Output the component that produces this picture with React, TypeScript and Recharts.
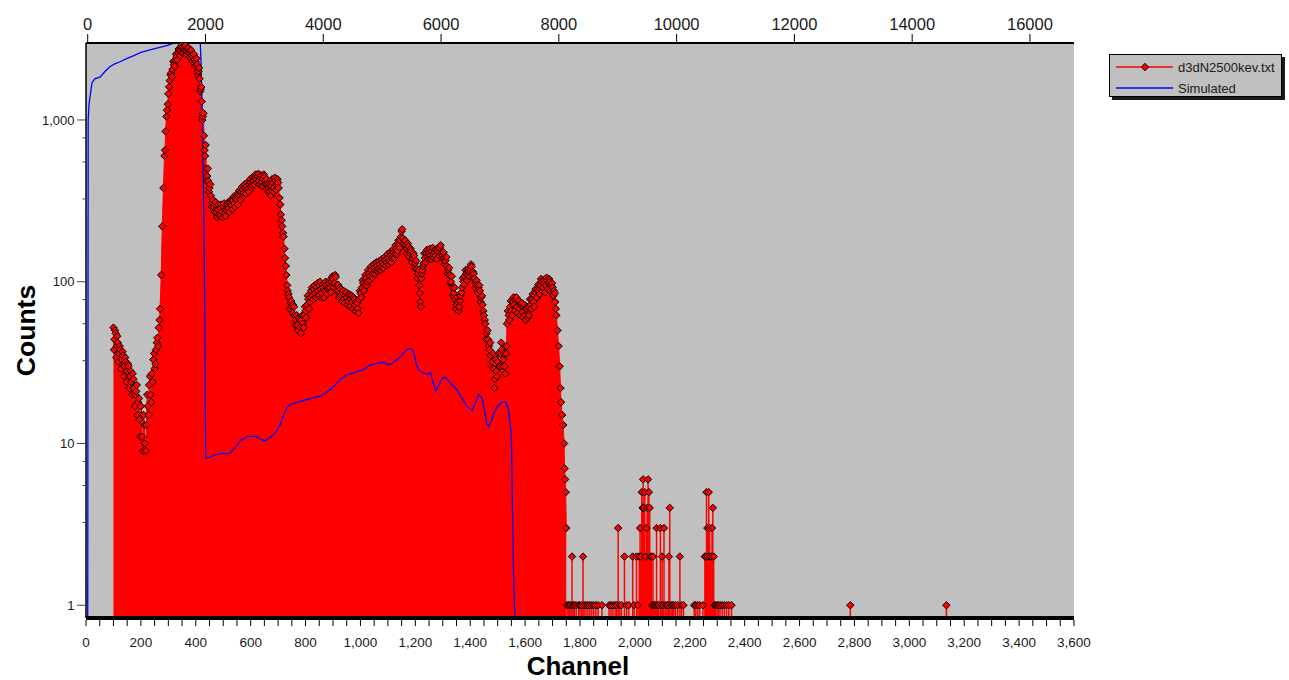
import React from 'react';
import { ComposedChart, Area, Line, XAxis, YAxis, CartesianGrid, ErrorBar } from 'recharts';

// ---- data (channel, counts) ----
const measuredDense: [number, number][] = [
  [100, 52], [104, 44], [108, 48], [112, 40], [116, 42], [120, 36], [125, 38], [130, 33], [135, 35], [140, 30],
  [145, 32], [150, 28], [155, 30], [160, 26], [165, 24], [170, 27], [175, 22], [180, 20], [185, 23], [190, 18],
  [195, 14], [200, 17], [205, 11], [210, 15], [215, 10], [220, 13], [225, 17], [230, 23], [235, 20], [240, 27],
  [245, 33], [250, 29], [255, 38], [260, 45], [265, 52], [270, 68], [274, 110], [278, 220], [282, 380], [286, 600],
  [290, 850], [295, 1150], [300, 1450], [305, 1750], [310, 1950], [315, 2050], [320, 2200], [325, 2350], [330, 2450], [335, 2600],
  [340, 2700], [345, 2650], [350, 2800], [355, 2780], [360, 2850], [365, 2700], [370, 2750], [375, 2600], [380, 2680], [385, 2500],
  [390, 2450], [395, 2350], [400, 2300], [405, 2200], [410, 2000], [414, 1800], [418, 1550], [422, 1300], [426, 1050], [430, 800],
  [434, 600], [438, 500], [442, 450], [446, 420], [450, 380], [455, 340], [460, 310], [465, 290], [470, 300], [475, 270],
  [480, 280], [485, 260], [490, 285], [495, 270], [500, 290], [505, 265], [510, 280], [515, 300], [520, 285], [525, 310],
  [530, 295], [535, 320], [540, 305], [545, 330], [550, 320], [555, 345], [560, 340], [565, 360], [570, 370], [575, 355],
  [580, 380], [585, 390], [590, 375], [595, 400], [600, 410], [605, 395], [610, 420], [615, 440], [620, 430], [625, 450],
  [630, 420], [635, 440], [640, 410], [645, 430], [650, 445], [655, 420], [660, 400], [665, 380], [670, 360], [675, 390],
  [680, 410], [685, 380], [690, 420], [695, 400], [700, 410], [705, 330], [710, 260], [715, 220], [720, 190], [725, 140],
  [730, 110], [735, 88], [740, 80], [745, 74], [750, 70], [755, 72], [760, 62], [765, 58], [770, 54], [775, 60],
  [780, 52], [785, 58], [790, 55], [795, 62], [800, 66], [805, 72], [810, 78], [815, 75], [820, 88], [825, 82],
  [830, 90], [835, 85], [840, 92], [845, 88], [850, 95], [855, 90], [860, 85], [865, 92], [870, 88], [875, 95],
  [880, 90], [885, 98], [890, 92], [895, 100], [900, 104], [905, 98], [910, 107], [915, 95], [920, 88], [925, 92],
  [930, 82], [935, 85], [940, 78], [945, 82], [950, 80], [955, 76], [960, 82], [965, 78], [970, 75], [975, 80],
  [980, 72], [985, 75], [990, 68], [995, 78], [1000, 85], [1005, 92], [1010, 98], [1015, 95], [1020, 105], [1025, 100],
  [1030, 112], [1035, 108], [1040, 118], [1045, 112], [1050, 122], [1055, 118], [1060, 125], [1065, 120], [1070, 128], [1075, 124],
  [1080, 132], [1085, 128], [1090, 136], [1095, 132], [1100, 140], [1105, 134], [1110, 145], [1115, 140], [1120, 152], [1125, 148],
  [1130, 160], [1135, 155], [1140, 170], [1145, 180], [1150, 205], [1155, 185], [1160, 175], [1165, 168], [1170, 160], [1175, 165],
  [1180, 150], [1185, 155], [1190, 140], [1195, 145], [1200, 130], [1205, 120], [1210, 112], [1215, 95], [1218, 75], [1222, 105],
  [1226, 118], [1230, 130], [1235, 140], [1240, 150], [1245, 142], [1250, 150], [1255, 145], [1260, 155], [1265, 148], [1270, 152],
  [1275, 145], [1280, 155], [1285, 150], [1290, 162], [1295, 150], [1300, 145], [1305, 140], [1310, 135], [1315, 125], [1320, 118],
  [1325, 110], [1330, 100], [1335, 92], [1340, 85], [1345, 78], [1350, 72], [1355, 75], [1360, 70], [1365, 82], [1370, 92],
  [1375, 100], [1380, 108], [1385, 112], [1390, 110], [1395, 115], [1400, 118], [1405, 124], [1410, 115], [1415, 105], [1420, 100],
  [1425, 95], [1430, 92], [1435, 88], [1440, 80], [1445, 72], [1450, 62], [1455, 55], [1460, 48], [1465, 44], [1470, 38],
  [1475, 35], [1480, 32], [1485, 29], [1490, 25], [1495, 28], [1500, 32], [1505, 30], [1510, 36], [1515, 38], [1520, 33],
  [1525, 30], [1530, 36], [1534, 55], [1540, 62], [1545, 70], [1550, 66], [1555, 75], [1560, 72], [1565, 78], [1570, 70],
  [1575, 75], [1580, 68], [1585, 72], [1590, 65], [1595, 70], [1600, 62], [1605, 68], [1610, 60], [1615, 70], [1620, 72],
  [1625, 78], [1630, 75], [1635, 82], [1640, 85], [1645, 90], [1650, 88], [1655, 95], [1660, 100], [1665, 92], [1670, 98],
  [1675, 95], [1680, 102], [1685, 98], [1690, 100], [1695, 95], [1700, 92], [1705, 88], [1710, 75], [1714, 62], [1718, 50],
  [1722, 40], [1726, 30], [1729, 22], [1731, 18], [1735, 15], [1739, 13], [1742, 10], [1744, 7], [1746, 6], [1748, 5],
  [1750, 3],
];

// in-between channels: the scatter below/above the main envelope
const measuredDenseAlt: [number, number][] = [
  [102, 38], [106, 50], [110, 34], [114, 46], [118, 32], [123, 40], [128, 29], [133, 37], [138, 26], [143, 34],
  [148, 24], [153, 31], [158, 22], [163, 28], [168, 20], [173, 25], [178, 17], [183, 21], [188, 15], [193, 19],
  [198, 11], [203, 15], [208, 9], [213, 13], [218, 9], [223, 20], [228, 15], [233, 26], [238, 18], [243, 24],
  [248, 36], [253, 31], [258, 42], [263, 40], [268, 58],
  [288, 650], [293, 1050], [298, 1250], [303, 1600], [308, 1900], [313, 1850], [318, 2300], [323, 2150], [328, 2550], [333, 2350],
  [338, 2750], [343, 2500], [348, 2900], [353, 2600], [358, 2700], [363, 2900], [368, 2550], [373, 2800], [378, 2450], [383, 2700],
  [388, 2300], [393, 2550], [398, 2150], [403, 2400], [408, 1900], [412, 2100], [416, 1500], [420, 1600], [424, 1000], [428, 1100],
  [432, 650], [436, 700], [440, 420], [444, 500], [448, 360], [453, 400], [458, 290], [463, 320],
  [468, 270], [473, 310], [478, 250], [483, 300], [488, 255], [493, 300], [498, 250], [503, 305], [508, 255], [513, 275],
  [518, 310], [523, 270], [528, 320], [533, 280], [538, 335], [543, 290], [548, 345], [553, 300], [558, 365], [563, 320],
  [568, 385], [573, 340], [578, 400], [583, 350], [588, 410], [593, 360], [598, 430], [603, 380], [608, 445], [613, 400],
  [618, 460], [623, 410], [628, 465], [633, 400], [638, 455], [643, 390], [648, 460], [653, 400], [658, 430], [663, 360],
  [668, 395], [673, 340], [678, 430], [683, 360], [688, 440], [693, 370], [698, 430], [702, 380],
  [708, 300], [713, 240], [718, 200], [723, 160], [728, 125], [733, 95], [738, 84], [743, 68], [748, 76], [753, 64],
  [758, 70], [763, 54], [768, 62], [773, 50], [778, 58], [783, 48], [788, 62], [793, 52], [798, 70], [803, 60],
  [808, 82], [813, 68], [818, 80], [823, 92], [828, 78], [833, 95], [838, 80], [843, 98], [848, 82], [853, 100],
  [858, 80], [863, 96], [868, 80], [873, 100], [878, 84], [883, 92], [888, 102], [893, 86], [898, 108], [903, 92],
  [908, 110], [913, 88], [918, 96], [923, 80], [928, 90], [933, 76], [938, 88], [943, 74], [948, 86], [953, 72],
  [958, 84], [963, 70], [968, 82], [973, 68], [978, 78], [983, 66], [988, 74], [993, 64], [998, 88],
  [1003, 80], [1008, 102], [1013, 88], [1018, 110], [1023, 95], [1028, 118], [1033, 102], [1038, 124], [1043, 106], [1048, 128],
  [1053, 112], [1058, 132], [1063, 116], [1068, 134], [1073, 118], [1078, 138], [1083, 122], [1088, 142], [1093, 126], [1098, 148],
  [1103, 128], [1108, 152], [1113, 132], [1118, 158], [1123, 140], [1128, 168], [1133, 148], [1138, 180], [1143, 162], [1148, 190],
  [1152, 211], [1158, 170], [1163, 180], [1168, 150], [1173, 172], [1178, 142], [1183, 160], [1188, 132], [1193, 150], [1198, 122],
  [1203, 135], [1208, 105], [1213, 118], [1216, 85], [1220, 70], [1224, 112], [1228, 125], [1233, 150], [1238, 132], [1243, 158],
  [1248, 138], [1253, 160], [1258, 138], [1263, 162], [1268, 140], [1273, 158], [1278, 138], [1283, 162], [1288, 145], [1292, 168],
  [1298, 140], [1303, 152], [1308, 128], [1313, 142], [1318, 112], [1323, 122], [1328, 98], [1333, 108], [1338, 82], [1343, 92],
  [1348, 68], [1353, 80], [1358, 66], [1363, 76], [1368, 86], [1373, 105], [1378, 96], [1383, 118], [1388, 102], [1393, 120],
  [1398, 108], [1403, 128], [1408, 110], [1413, 112], [1418, 92], [1423, 102], [1428, 85], [1433, 95], [1438, 75], [1443, 82],
  [1448, 66], [1453, 58], [1458, 44], [1463, 50], [1468, 40], [1473, 42], [1478, 30], [1483, 36], [1488, 22], [1493, 33],
  [1498, 26], [1503, 36], [1508, 30], [1513, 42], [1518, 30], [1523, 36], [1528, 27], [1532, 40],
  [1537, 66], [1542, 58], [1548, 76], [1553, 62], [1558, 80], [1563, 66], [1568, 80], [1573, 64], [1578, 76], [1583, 62],
  [1588, 74], [1593, 60], [1598, 72], [1603, 58], [1608, 70], [1613, 62], [1618, 78], [1623, 68], [1628, 84], [1633, 70],
  [1638, 90], [1643, 80], [1648, 96], [1653, 84], [1658, 104], [1663, 88], [1668, 102], [1673, 86], [1678, 106], [1683, 90],
  [1688, 104], [1693, 88], [1698, 98], [1703, 82], [1708, 85], [1712, 68],
];

const measuredSparse: [number, number][] = [
  [1753, 1], [1757, 1], [1762, 1], [1767, 1], [1771, 2], [1775, 1], [1779, 1], [1786, 1], [1795, 1], [1800, 1],
  [1806, 1], [1811, 2], [1815, 1], [1822, 1], [1829, 1], [1836, 1], [1843, 1], [1850, 1], [1858, 1], [1866, 1],
  [1880, 1], [1906, 1], [1913, 1], [1920, 1], [1928, 1], [1934, 1], [1939, 3], [1945, 1], [1951, 1], [1962, 2],
  [1970, 1], [1978, 1], [1992, 2], [1997, 1], [2006, 2], [2011, 1], [2016, 2], [2019, 3], [2022, 2], [2025, 5],
  [2028, 4], [2030, 6], [2033, 4], [2036, 5], [2039, 2], [2042, 3], [2045, 4], [2048, 6], [2051, 5], [2054, 4],
  [2057, 2], [2060, 2], [2063, 1], [2066, 2], [2069, 1], [2072, 1], [2076, 1], [2079, 3], [2083, 1], [2087, 1],
  [2093, 3], [2096, 1], [2099, 2], [2103, 1], [2106, 3], [2112, 1], [2117, 1], [2121, 1], [2124, 2], [2127, 4],
  [2132, 1], [2137, 1], [2142, 1], [2148, 1], [2156, 1], [2164, 2], [2170, 1], [2177, 1], [2216, 1], [2222, 1],
  [2229, 1], [2236, 1], [2248, 1], [2255, 2], [2258, 2], [2261, 5], [2264, 3], [2266, 2], [2269, 5], [2272, 3],
  [2275, 2], [2278, 2], [2281, 3], [2284, 4], [2287, 2], [2290, 1], [2294, 1], [2299, 1], [2304, 1], [2310, 1],
  [2318, 1], [2326, 1], [2334, 1], [2342, 1], [2352, 1], [2785, 1], [3135, 1],
];

const simulated: [number, number][] = [
  [6, 0.3], [8, 1000], [11, 1250], [15, 1400], [22, 1700], [33, 1800], [51, 1840], [70, 2000], [88, 2140], [105, 2220],
  [124, 2290], [150, 2400], [172, 2490], [200, 2620], [233, 2710], [265, 2800], [294, 2880], [320, 2990], [350, 3050], [390, 3100],
  [416, 3100], [419, 2300], [423, 1200], [427, 500], [430, 200], [433, 60], [436, 8.1], [452, 8.2], [470, 8.5], [489, 8.65],
  [525, 8.7], [545, 9.5], [562, 10.4], [586, 11.0], [605, 11.1], [622, 11.0], [638, 10.6], [653, 10.4], [668, 10.8], [683, 11.3],
  [695, 12], [708, 13.1], [720, 15], [732, 16.6], [745, 17.4], [762, 17.8], [785, 18.3], [805, 18.7], [830, 19.2], [853, 19.6],
  [870, 20.3], [890, 21.5], [908, 23], [926, 24.9], [950, 26.5], [975, 27.3], [995, 28], [1011, 28.6], [1036, 30.6], [1060, 31.3],
  [1084, 31.8], [1096, 31], [1106, 30.6], [1120, 31.8], [1133, 32.9], [1150, 35], [1165, 37.5], [1175, 38.6], [1185, 38.5], [1194, 37],
  [1200, 33], [1206, 30], [1212, 28.6], [1225, 27.5], [1242, 26.8], [1255, 27.3], [1265, 24], [1273, 21], [1285, 23], [1300, 25.5],
  [1309, 25.6], [1320, 24.5], [1335, 23], [1352, 21.5], [1370, 19], [1388, 17], [1407, 16], [1420, 18], [1431, 20.1], [1443, 19.1],
  [1452, 16], [1461, 13.1], [1467, 12.8], [1475, 13.5], [1485, 15.3], [1500, 17], [1515, 18], [1530, 18], [1540, 16], [1546, 13],
  [1550, 10.9], [1552, 6.5], [1555, 3], [1558, 1.5], [1562, 0.9], [1566, 0.5],
];

// ---- axes ----
const channelTicks = [
  0, 50, 100, 150, 200, 250, 300, 350, 400, 450, 500, 550, 600, 650, 700, 750, 800, 850, 900, 950,
  1000, 1050, 1100, 1150, 1200, 1250, 1300, 1350, 1400, 1450, 1500, 1550, 1600, 1650, 1700, 1750, 1800, 1850, 1900, 1950,
  2000, 2050, 2100, 2150, 2200, 2250, 2300, 2350, 2400, 2450, 2500, 2550, 2600, 2650, 2700, 2750, 2800, 2850, 2900, 2950,
  3000, 3050, 3100, 3150, 3200, 3250, 3300, 3350, 3400, 3450, 3500, 3550, 3600,
];
const channelLabels = [0, 200, 400, 600, 800, 1000, 1200, 1400, 1600, 1800, 2000, 2200, 2400, 2600, 2800, 3000, 3200, 3400, 3600];
const energyTicks = [0, 2000, 4000, 6000, 8000, 10000, 12000, 14000, 16000];
const countTicks = [1, 3.25, 5.5, 7.75, 10, 32.5, 55, 77.5, 100, 325, 550, 775, 1000];
const countLabels = [1, 10, 100, 1000];

const CH_DOMAIN: [number, number] = [0, 3600];
const Y_DOMAIN: [number, number] = [0.834, 2991];
// energy calibration of the top axis (energy = gain * channel + offset)
const ENERGY_GAIN = 16777 / 3600;
const ENERGY_OFFSET = -29;
const energyTickChannels = energyTicks.map((e) => (e - ENERGY_OFFSET) / ENERGY_GAIN);

const series = [
  { key: 'counts', name: 'd3dN2500kev.txt', color: '#ff0000', marker: true },
  { key: 'sim', name: 'Simulated', color: '#0000ff', marker: false },
];

const FONT = "'Liberation Sans', Arial, Helvetica, sans-serif";
const TXT = '#1a1a1a';

type Row = { ch: number; dense?: number; counts?: number; stem?: boolean; sim?: number };
const rowMap = new Map<number, Row>();
const rowAt = (ch: number) => {
  let r = rowMap.get(ch);
  if (!r) {
    r = { ch };
    rowMap.set(ch, r);
  }
  return r;
};
[...measuredDense, ...measuredDenseAlt].forEach(([c, v]) => {
  const r = rowAt(c);
  r.dense = v;
  r.counts = v;
});
measuredSparse.forEach(([c, v]) => {
  const r = rowAt(c);
  r.counts = v;
  r.stem = true;
});
simulated.forEach(([c, v]) => {
  rowAt(c).sim = v;
});
const data: Row[] = Array.from(rowMap.values()).sort((a, b) => a.ch - b.ch);

const stemExtent = (r: Row) => (r.stem && r.counts != null ? [r.counts - Y_DOMAIN[0], 0] : undefined);

const fmt = (v: number) => v.toLocaleString('en-US');

const BottomTick = (p: any) => {
  const { x, y, payload } = p;
  const v = payload.value;
  return (
    <g>
      <line x1={x} x2={x} y1={y + 2} y2={y + 8} stroke="#000" strokeWidth={1} />
      {channelLabels.includes(v) && (
        <text x={x} y={y + 29} textAnchor="middle" fontSize={13.5} fontFamily={FONT} fill={TXT}>
          {fmt(v)}
        </text>
      )}
    </g>
  );
};

const TopTick = (p: any) => {
  const { x, y, payload } = p;
  const energy = Math.round(payload.value * ENERGY_GAIN + ENERGY_OFFSET);
  return (
    <g>
      <line x1={x} x2={x} y1={y - 9} y2={y - 1} stroke="#000" strokeWidth={1} />
      <text x={x} y={y - 13.5} textAnchor="middle" fontSize={16.5} fontFamily={FONT} fill={TXT}>
        {String(energy)}
      </text>
    </g>
  );
};

const LeftTick = (p: any) => {
  const { x, y, payload } = p;
  const v = payload.value;
  const major = countLabels.includes(v);
  return (
    <g>
      <line x1={x - (major ? 9 : 3.5)} x2={x - 1} y1={y} y2={y} stroke="#444" strokeWidth={1} />
      {major && (
        <text x={x - 11.5} y={y} dy="0.35em" textAnchor="end" fontSize={13} fontFamily={FONT} fill={TXT}>
          {fmt(v)}
        </text>
      )}
    </g>
  );
};

const Diamond = (p: any) => {
  const { cx, cy, value, index } = p;
  if (cx == null || cy == null || value == null) return <g key={`dm-${index}`} />;
  const r = 3.7;
  return (
    <path
      key={`dm-${index}`}
      d={`M${cx},${cy - r}L${cx + r},${cy}L${cx},${cy + r}L${cx - r},${cy}Z`}
      fill="#ff0000"
      stroke="#000"
      strokeWidth={1}
    />
  );
};

const ChannelTitle = (p: any) => {
  const vb = p.viewBox || { x: 86, y: 618, width: 988, height: 62 };
  return (
    <text x={vb.x + vb.width / 2 - 2} y={vb.y + 57} textAnchor="middle" fontSize={26} fontWeight="bold" fontFamily={FONT} fill="#000">
      Channel
    </text>
  );
};

const CountsTitle = (p: any) => {
  const vb = p.viewBox || { x: 0, y: 43, width: 86, height: 575 };
  const cx = vb.x + 25;
  const cy = vb.y + vb.height / 2;
  return (
    <text
      x={cx}
      y={cy}
      dy="0.36em"
      textAnchor="middle"
      fontSize={26.5}
      fontWeight="bold"
      fontFamily={FONT}
      fill="#000"
      transform={`rotate(-90 ${cx} ${cy})`}
    >
      Counts
    </text>
  );
};

const LegendBox = () => (
  <div
    style={{
      position: 'absolute',
      left: 1109,
      top: 54,
      width: 171,
      height: 41,
      background: '#c0c0c0',
      border: '1px solid #000',
      boxShadow: '3px 3px 0 #1a1a1a',
    }}
  >
    <svg width={171} height={41} style={{ display: 'block' }}>
      {series.map((s, i) => {
        const cy = 12 + i * 21;
        return (
          <g key={s.key}>
            <line x1={6} x2={63} y1={cy} y2={cy} stroke={s.color} strokeWidth={1.3} />
            {s.marker && (
              <path d={`M35,${cy - 3.7}L38.7,${cy}L35,${cy + 3.7}L31.3,${cy}Z`} fill={s.color} stroke="#000" strokeWidth={1} />
            )}
            <text x={68} y={cy} dy="0.35em" fontSize={13} fontFamily={FONT} fill={TXT}>
              {s.name}
            </text>
          </g>
        );
      })}
    </svg>
  </div>
);

export default function App() {
  return (
    <div style={{ position: 'absolute', left: 0, top: 0, width: 1289, height: 680, background: '#fff' }}>
      <ComposedChart width={1289} height={680} data={data} margin={{ top: 0, right: 215, bottom: 0, left: 0 }}>
        <CartesianGrid horizontal={false} vertical={false} fill="#c0c0c0" fillOpacity={1} stroke="none" xAxisId="ch" yAxisId="counts" />
        <XAxis
          xAxisId="ch"
          dataKey="ch"
          type="number"
          domain={CH_DOMAIN}
          allowDataOverflow
          ticks={channelTicks}
          interval={0}
          height={62}
          tickSize={0}
          tickMargin={0}
          tickLine={false}
          axisLine={{ stroke: '#000', strokeWidth: 4 }}
          tick={BottomTick}
          label={ChannelTitle}
        />
        <XAxis
          xAxisId="top"
          dataKey="ch"
          orientation="top"
          type="number"
          domain={CH_DOMAIN}
          allowDataOverflow
          ticks={energyTickChannels}
          interval={0}
          height={43}
          tickSize={0}
          tickMargin={0}
          tickLine={false}
          axisLine={{ stroke: '#000', strokeWidth: 2 }}
          tick={TopTick}
        />
        <YAxis
          yAxisId="counts"
          type="number"
          scale="log"
          domain={Y_DOMAIN}
          allowDataOverflow
          ticks={countTicks}
          interval={0}
          width={86}
          tickSize={0}
          tickMargin={0}
          tickLine={false}
          axisLine={{ stroke: '#000', strokeWidth: 1.5 }}
          tick={LeftTick}
          label={CountsTitle}
        />
        <Area
          xAxisId="ch"
          yAxisId="counts"
          dataKey="dense"
          type="linear"
          connectNulls
          fill="#ff0000"
          fillOpacity={1}
          stroke="#ff0000"
          strokeWidth={1}
          dot={false}
          activeDot={false}
          isAnimationActive={false}
        />
        <Line
          xAxisId="ch"
          yAxisId="counts"
          dataKey="counts"
          name={series[0].name}
          stroke="none"
          strokeWidth={0}
          dot={Diamond}
          activeDot={false}
          isAnimationActive={false}
        >
          <ErrorBar dataKey={stemExtent as any} direction="y" width={0} stroke="#ff0000" strokeWidth={1.5} />
        </Line>
        <Line
          xAxisId="ch"
          yAxisId="counts"
          dataKey="sim"
          name={series[1].name}
          type="linear"
          connectNulls
          stroke="#0000ff"
          strokeWidth={1.3}
          dot={false}
          activeDot={false}
          isAnimationActive={false}
        />
        <Line
          xAxisId="top"
          yAxisId="counts"
          dataKey="sim"
          legendType="none"
          stroke="none"
          strokeWidth={0}
          dot={false}
          activeDot={false}
          isAnimationActive={false}
        />
      </ComposedChart>
      <LegendBox />
    </div>
  );
}
